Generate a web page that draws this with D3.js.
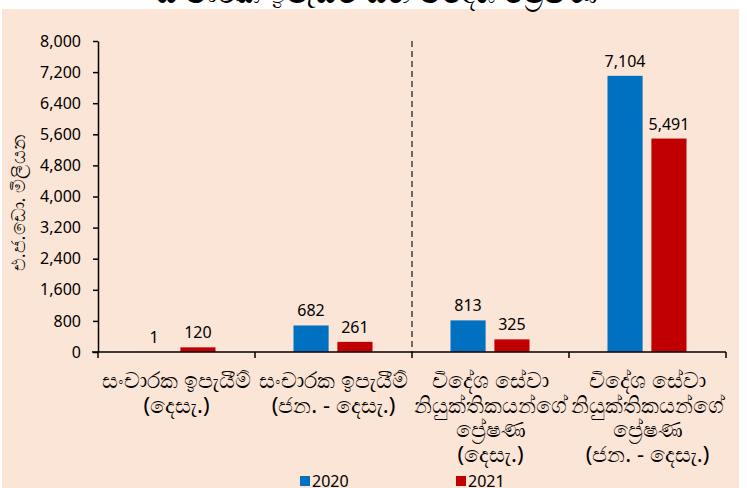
<html>
<head>
  <meta charset="utf-8">
  <script src="https://d3js.org/d3.v7.min.js"></script>
  <style>
    body { margin: 0; background: #fff; }
    text { font-family: "Noto Sans", "Open Sans", sans-serif; fill: #000; }
    .axis .domain, .axis line { stroke: #000; stroke-width: 1.5; }
  </style>
</head>
<body>
  <svg id="chart" width="747" height="488"></svg>
  <script>
    // categories: each one is a list of label lines
    const categories = [
      ["සංචාරක ඉපැයීම්", "(දෙසැ.)"],
      ["සංචාරක ඉපැයීම්", "(ජන. - දෙසැ.)"],
      ["විදේශ සේවා", "නියුක්තිකයන්ගේ", "ප්‍රේෂණ", "(දෙසැ.)"],
      ["විදේශ සේවා", "නියුක්තිකයන්ගේ", "ප්‍රේෂණ", "(ජන. - දෙසැ.)"]
    ];
    const seriesNames = ["2020", "2021"];
    const values2020 = [1, 682, 813, 7104];
    const values2021 = [120, 261, 325, 5491];
    const yTicks = [0, 800, 1600, 2400, 3200, 4000, 4800, 5600, 6400, 7200, 8000];
    const colors = ["#0070c0", "#c00000"];
    const yTitle = "එ.ජ.ඩො. මිලියන";
    const title = "සංචාරක ඉපැයීම් සහ විදේශ ප්‍රේෂණ";

    const svg = d3.select("#chart");

    // peach panel
    svg.append("rect").attr("x", 2).attr("y", 9).attr("width", 737).attr("height", 479)
      .attr("fill", "#fbe5d6");

    // cut-off title
    svg.append("text").attr("x", 377).attr("y", 3).attr("text-anchor", "middle")
      .style("font-size", "30px").text(title);

    const idx = d3.range(categories.length);
    const x0 = d3.scaleBand().domain(idx).range([98, 726]);
    const x1 = d3.scaleBand().domain(seriesNames).range([38.5, 117.5]).paddingInner(0.2);
    const y = d3.scaleLinear().domain([0, 8000]).range([352, 41]);

    // y axis
    svg.append("g").attr("class", "axis")
      .attr("transform", "translate(98,0)")
      .call(d3.axisLeft(y).tickValues(yTicks).tickSize(5).tickSizeOuter(0).tickFormat(d3.format(",")))
      .call(g => g.selectAll("text").attr("x", -17).style("font-size", "16px").style("font-family", "'Noto Sans', sans-serif"));

    // separator
    svg.append("line").attr("x1", x0(2)).attr("x2", x0(2)).attr("y1", y(8000)).attr("y2", y(0))
      .attr("stroke", "#404040").attr("stroke-width", 1.5).attr("stroke-dasharray", "6,4");

    // bars
    const data = idx.map(i => [values2020[i], values2021[i]]);
    const groups = svg.selectAll("g.cat").data(data).join("g")
      .attr("class", "cat")
      .attr("transform", (d, i) => `translate(${x0(i)},0)`);
    groups.selectAll("rect").data(d => d.map((v, j) => ({ v, s: seriesNames[j], c: colors[j] })))
      .join("rect")
      .attr("x", d => x1(d.s))
      .attr("width", x1.bandwidth())
      .attr("y", d => y(d.v))
      .attr("height", d => y(0) - y(d.v))
      .attr("fill", d => d.c);
    groups.selectAll("text.val").data(d => d.map((v, j) => ({ v, s: seriesNames[j] })))
      .join("text")
      .attr("class", "val")
      .attr("x", d => x1(d.s) + x1.bandwidth() / 2)
      .attr("y", d => y(d.v) - 9)
      .attr("text-anchor", "middle")
      .style("font-size", "16px")
      .text(d => d3.format(",")(d.v));

    // x axis line with ticks on category borders
    svg.append("line").attr("x1", 92).attr("x2", 726).attr("y1", y(0)).attr("y2", y(0))
      .attr("stroke", "#000").attr("stroke-width", 1.5);
    svg.selectAll("line.xt").data(d3.range(categories.length + 1)).join("line")
      .attr("class", "xt")
      .attr("x1", i => 98 + i * x0.bandwidth()).attr("x2", i => 98 + i * x0.bandwidth())
      .attr("y1", y(0)).attr("y2", y(0) + 6)
      .attr("stroke", "#000").attr("stroke-width", 1.5);

    // category labels
    const labs = svg.selectAll("text.cl").data(categories).join("text")
      .attr("class", "cl")
      .attr("text-anchor", "middle")
      .style("font-size", "22px");
    labs.selectAll("tspan").data((d, i) => d.map(l => ({ l, i }))).join("tspan")
      .attr("x", d => x0(d.i) + x0.bandwidth() / 2)
      .attr("y", (d, k) => 388 + k * 24.5)
      .text(d => d.l);

    // y title
    svg.append("text").attr("transform", "translate(25,203) rotate(-90)")
      .attr("text-anchor", "middle").style("font-size", "18.5px").text(yTitle);

    // legend
    const leg = svg.selectAll("g.leg").data(seriesNames).join("g")
      .attr("class", "leg")
      .attr("transform", (d, i) => `translate(${300 + i * 156},476)`);
    leg.append("rect").attr("width", 10).attr("height", 10).attr("fill", (d, i) => colors[i]);
    leg.append("text").attr("x", 12).attr("y", 11).style("font-size", "16px").text(d => d);
  </script>
</body>
</html>
